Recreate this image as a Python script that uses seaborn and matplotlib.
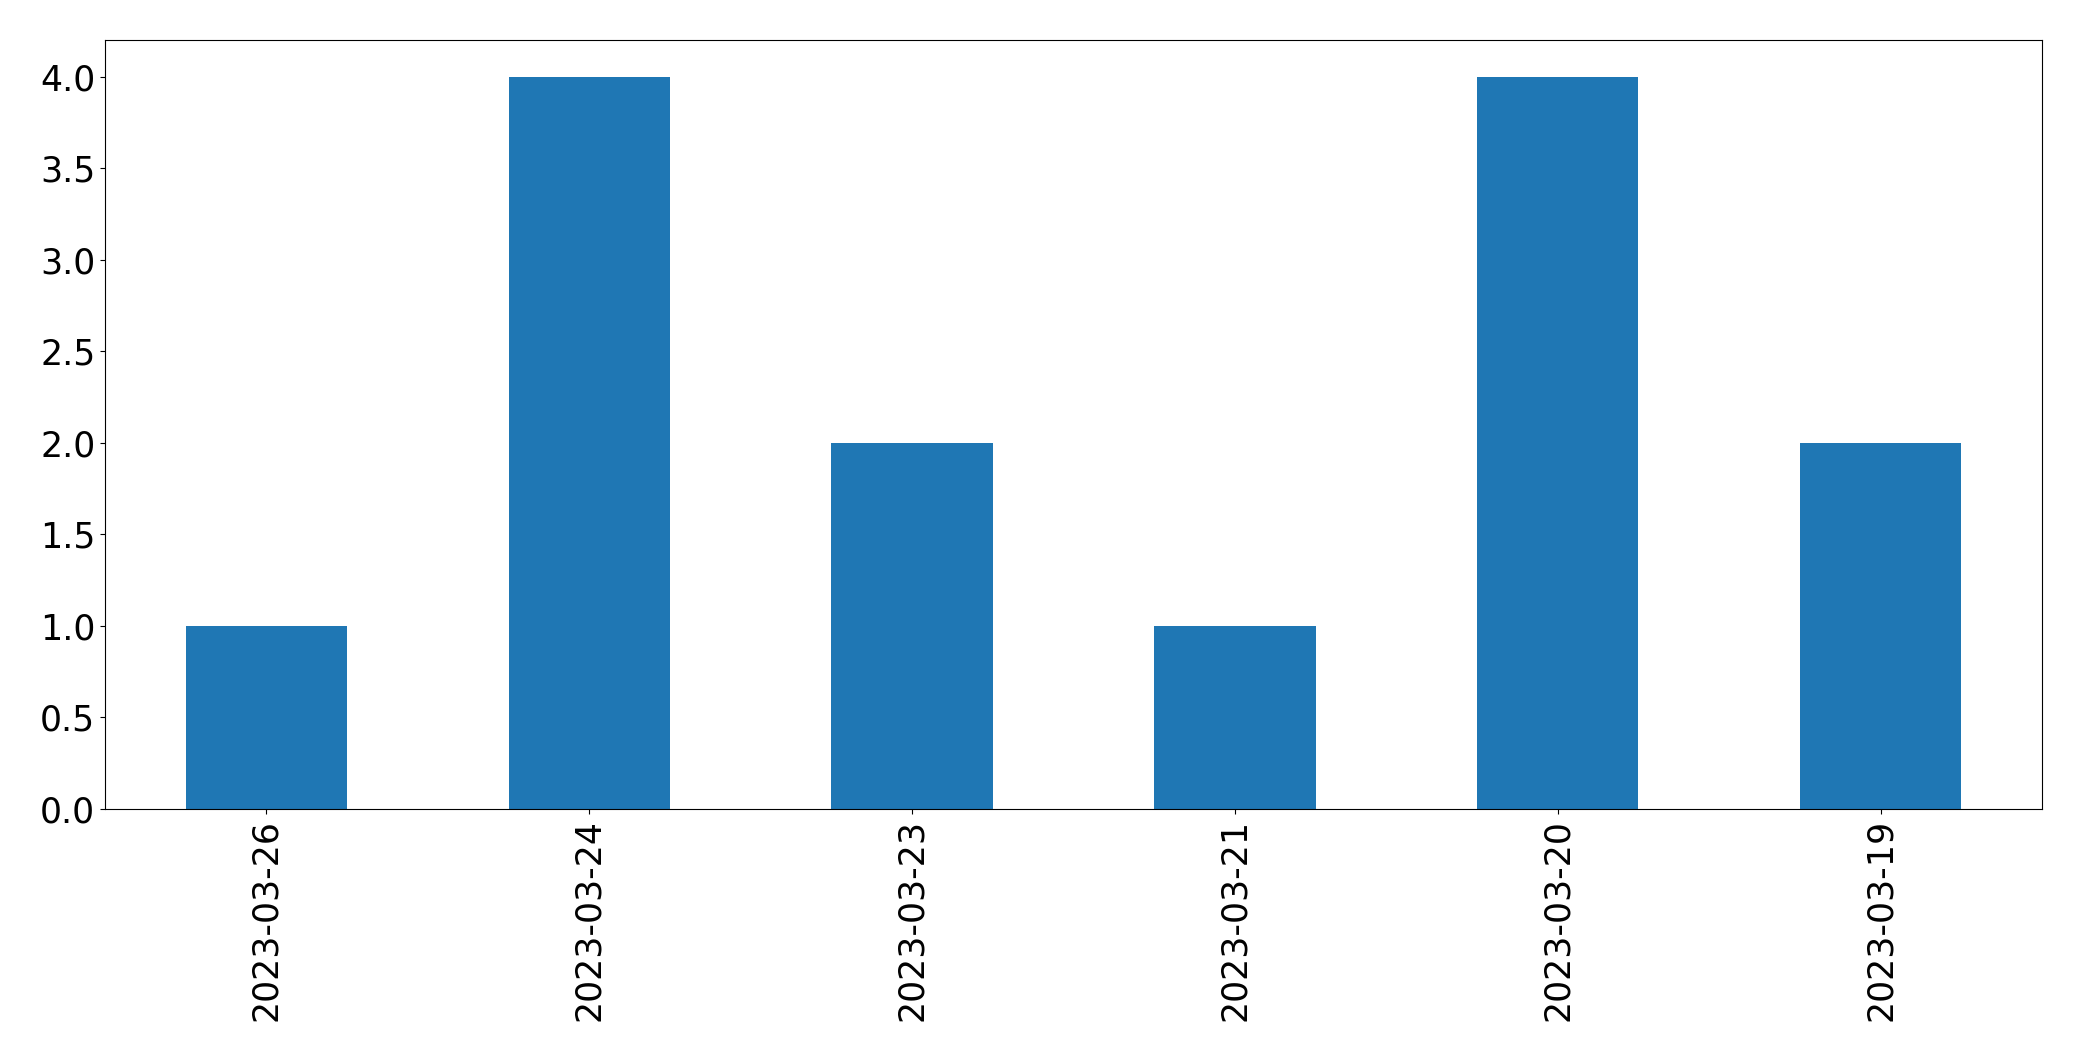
import matplotlib
matplotlib.use("Agg")

import matplotlib.pyplot as plt
import pandas as pd
import seaborn as sns

# comptes par date, dans l'ordre affiché
dates = ["2023-03-26", "2023-03-24", "2023-03-23", "2023-03-21", "2023-03-20", "2023-03-19"]
counts = [1, 4, 2, 1, 4, 2]


def main() -> None:
    df = pd.DataFrame({"date": dates, "count": counts})

    fig = plt.figure(figsize=(20.82, 10.61), dpi=100)
    ax = fig.add_axes([105 / 2082, 1 - 809 / 1061, (2042 - 105) / 2082, (809 - 40) / 1061])

    sns.barplot(
        data=df,
        x="date",
        y="count",
        order=dates,
        color="#1f77b4",
        saturation=1,
        width=0.5,
        ax=ax,
    )
    ax.set_xlim(-0.5, len(dates) - 0.5)
    ax.set_ylim(0, 4.2)
    ax.set_xlabel("")
    ax.set_ylabel("")
    for spine in ax.spines.values():
        spine.set_color("black")
    ax.tick_params(axis="both", labelsize=25, colors="black")
    ax.tick_params(axis="x", labelrotation=90)

    fig.savefig("out.png", dpi=100)
    plt.close(fig)


if __name__ == "__main__":
    main()
